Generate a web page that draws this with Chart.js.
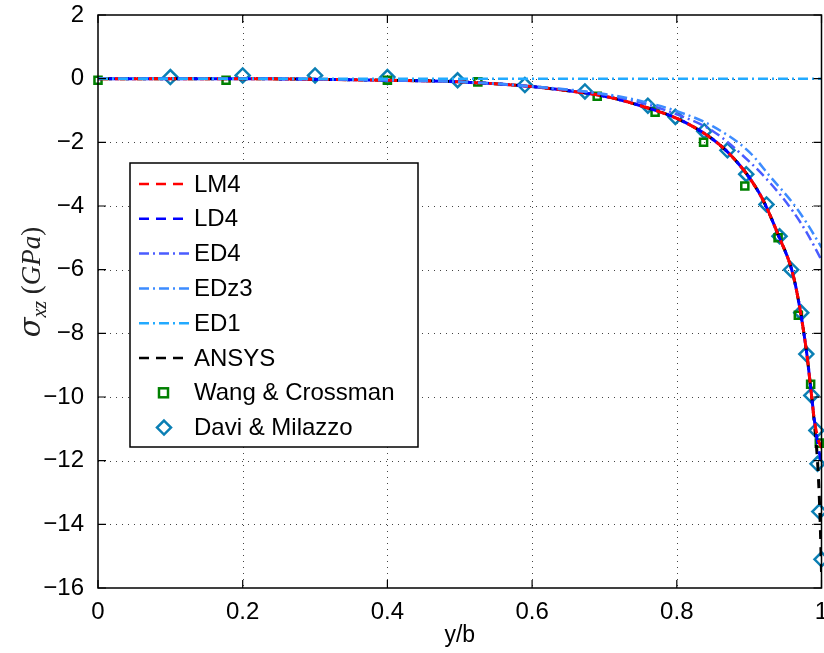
<!DOCTYPE html>
<html>
<head>
<meta charset="utf-8">
<script src="https://cdn.jsdelivr.net/npm/chart.js@4.4.0/dist/chart.umd.min.js"></script>
<style>
  html, body { margin: 0; padding: 0; background: #fff; overflow: hidden; }
  #wrap { width: 824px; height: 653px; overflow: hidden; }
</style>
</head>
<body>
<div id="wrap"><canvas id="stressChart" width="831" height="653"></canvas></div>
<script>
// tick values
const xTicks = [0, 0.2, 0.4, 0.6, 0.8, 1];
const yTicks = [2, 0, -2, -4, -6, -8, -10, -12, -14, -16];

// theoretical curves
const xMain = [0, 0.1, 0.2, 0.3, 0.4, 0.5, 0.6, 0.65, 0.7, 0.75, 0.8, 0.84, 0.87, 0.9, 0.92, 0.94, 0.96, 0.97, 0.98, 0.985, 0.99, 0.995, 1.0];
const lm4 = [0, 0, 0, -0.02, -0.05, -0.1, -0.25, -0.38, -0.55, -0.85, -1.25, -1.75, -2.3, -3.1, -3.85, -4.9, -6.1, -7.2, -8.7, -9.7, -10.7, -11.3, -11.6];
const ld4 = [0, 0, 0, -0.02, -0.05, -0.1, -0.25, -0.38, -0.55, -0.85, -1.25, -1.75, -2.3, -3.1, -3.85, -4.9, -6.1, -7.2, -8.7, -9.7, -10.7, -11.5, -12.1];

const xAnsys = [0, 0.1, 0.2, 0.3, 0.4, 0.5, 0.6, 0.65, 0.7, 0.75, 0.8, 0.84, 0.87, 0.9, 0.92, 0.94, 0.96, 0.97, 0.98, 0.985, 0.99, 0.995, 0.998, 1.0];
const ansys = [0, 0, 0, -0.02, -0.05, -0.1, -0.25, -0.38, -0.55, -0.85, -1.25, -1.75, -2.3, -3.1, -3.85, -4.9, -6.1, -7.2, -8.7, -9.7, -10.8, -12.2, -13.8, -15.5];

const xEd = [0, 0.2, 0.4, 0.5, 0.6, 0.7, 0.75, 0.8, 0.85, 0.9, 0.93, 0.96, 0.98, 1.0];
const ed4 = [0, 0, -0.05, -0.1, -0.25, -0.5, -0.75, -1.12, -1.65, -2.6, -3.3, -4.15, -4.85, -5.7];
const edz3 = [0, 0, -0.05, -0.1, -0.24, -0.48, -0.7, -1.02, -1.5, -2.3, -3.1, -3.9, -4.55, -5.3];

const xEd1 = [0, 1];
const ed1 = [0, 0];

// reference data
const wangX = [0, 0.177, 0.4, 0.525, 0.69, 0.77, 0.837, 0.894, 0.94, 0.968, 0.985, 0.997];
const wangY = [-0.05, -0.05, -0.05, -0.1, -0.55, -1.05, -2.0, -3.37, -5.0, -7.43, -9.6, -11.45];
const daviX = [0.1, 0.2, 0.3, 0.4, 0.497, 0.59, 0.673, 0.76, 0.798, 0.838, 0.87, 0.896, 0.924, 0.942, 0.958, 0.972, 0.979, 0.986, 0.993, 0.9945, 0.997, 1.0];
const daviY = [0.05, 0.1, 0.1, 0.05, -0.05, -0.2, -0.4, -0.85, -1.2, -1.65, -2.25, -3.0, -3.95, -4.95, -6.0, -7.35, -8.65, -9.95, -11.05, -12.1, -13.6, -15.1];

function pts(xs, ys) {
  return xs.map((x, i) => ({ x: x, y: ys[i] }));
}

const DASH = [10, 7];
const DASHDOT = [10, 4, 2, 4];

function lineSet(label, xs, ys, color, dash, width, offset) {
  return {
    label: label,
    data: pts(xs, ys),
    borderColor: color,
    backgroundColor: color,
    borderDash: dash,
    borderDashOffset: offset || 0,
    borderWidth: width,
    pointRadius: 0,
    cubicInterpolationMode: "monotone",
    fill: false,
  };
}

const datasets = [
  lineSet("ED1", xEd1, ed1, "#22aaff", DASHDOT, 2.5),
  lineSet("EDz3", xEd, edz3, "#3d8cff", DASHDOT, 2.5),
  lineSet("ED4", xEd, ed4, "#4a5cff", DASHDOT, 2.5),
  lineSet("LM4", xMain, lm4, "#ff0000", DASH, 3, 0),
  lineSet("LD4", xMain, ld4, "#0000ff", DASH, 3, 6),
  lineSet("ANSYS", xAnsys, ansys, "#000000", [9, 8], 3, 12),
  {
    label: "Wang & Crossman",
    data: pts(wangX, wangY),
    showLine: false,
    pointStyle: "rect",
    pointRadius: 5,
    borderColor: "#008000",
    backgroundColor: "rgba(0,0,0,0)",
    pointBorderWidth: 2.5,
    clip: false,
  },
  {
    label: "Davi & Milazzo",
    data: pts(daviX, daviY),
    showLine: false,
    pointStyle: "rectRot",
    pointRadius: 7,
    borderColor: "#0a7fb4",
    backgroundColor: "rgba(0,0,0,0)",
    pointBorderWidth: 2.5,
    clip: false,
  },
];

const legendItems = [
  { text: "LM4", color: "#ff0000", dash: DASH },
  { text: "LD4", color: "#0000ff", dash: DASH },
  { text: "ED4", color: "#4a5cff", dash: DASHDOT },
  { text: "EDz3", color: "#3d8cff", dash: DASHDOT },
  { text: "ED1", color: "#22aaff", dash: DASHDOT },
  { text: "ANSYS", color: "#000000", dash: DASH },
  { text: "Wang & Crossman", color: "#008000", marker: "square" },
  { text: "Davi & Milazzo", color: "#0a7fb4", marker: "diamond" },
];

// grid, frame, inner ticks, legend, y label
const matlabFrame = {
  id: "matlabFrame",
  beforeDatasetsDraw(chart) {
    const ctx = chart.ctx;
    const a = chart.chartArea;
    const xs = chart.scales.x;
    const ys = chart.scales.y;
    ctx.save();
    ctx.strokeStyle = "#444";
    ctx.lineWidth = 1;
    ctx.setLineDash([1, 5]);
    xTicks.forEach((t) => {
      if (t <= 0 || t >= 1) return;
      const px = Math.round(xs.getPixelForValue(t)) + 0.5;
      ctx.beginPath();
      ctx.moveTo(px, a.top);
      ctx.lineTo(px, a.bottom);
      ctx.stroke();
    });
    yTicks.forEach((t) => {
      if (t >= 2 || t <= -16) return;
      const py = Math.round(ys.getPixelForValue(t)) + 0.5;
      ctx.beginPath();
      ctx.moveTo(a.left, py);
      ctx.lineTo(a.right, py);
      ctx.stroke();
    });
    ctx.restore();
  },
  afterDraw(chart) {
    const ctx = chart.ctx;
    const a = chart.chartArea;
    const xs = chart.scales.x;
    const ys = chart.scales.y;
    ctx.save();
    ctx.setLineDash([]);
    ctx.strokeStyle = "#000";
    ctx.lineWidth = 1.5;
    ctx.strokeRect(a.left, a.top, a.right - a.left, a.bottom - a.top);
    // inward tick marks
    ctx.lineWidth = 1.2;
    const tl = 8;
    xTicks.forEach((t) => {
      const px = xs.getPixelForValue(t);
      ctx.beginPath();
      ctx.moveTo(px, a.bottom);
      ctx.lineTo(px, a.bottom - tl);
      ctx.moveTo(px, a.top);
      ctx.lineTo(px, a.top + tl);
      ctx.stroke();
    });
    yTicks.forEach((t) => {
      const py = ys.getPixelForValue(t);
      ctx.beginPath();
      ctx.moveTo(a.left, py);
      ctx.lineTo(a.left + tl, py);
      ctx.moveTo(a.right, py);
      ctx.lineTo(a.right - tl, py);
      ctx.stroke();
    });

    // legend box
    const bx = 130, by = 163, bw = 288, bh = 284;
    ctx.fillStyle = "#fff";
    ctx.fillRect(bx, by, bw, bh);
    ctx.lineWidth = 1.5;
    ctx.strokeRect(bx, by, bw, bh);
    ctx.font = "24px 'Liberation Sans', Arial, sans-serif";
    ctx.textBaseline = "middle";
    legendItems.forEach((item, i) => {
      const cy = 184 + i * 34.8;
      ctx.strokeStyle = item.color;
      ctx.lineWidth = 2.5;
      if (item.marker === "square") {
        ctx.setLineDash([]);
        ctx.strokeRect(159, cy - 4.5, 9, 9);
      } else if (item.marker === "diamond") {
        ctx.setLineDash([]);
        ctx.beginPath();
        ctx.moveTo(164, cy - 7);
        ctx.lineTo(171, cy);
        ctx.lineTo(164, cy + 7);
        ctx.lineTo(157, cy);
        ctx.closePath();
        ctx.stroke();
      } else {
        ctx.setLineDash(item.dash);
        ctx.beginPath();
        ctx.moveTo(139, cy);
        ctx.lineTo(189, cy);
        ctx.stroke();
      }
      ctx.setLineDash([]);
      ctx.fillStyle = "#000";
      ctx.fillText(item.text, 194, cy + 1);
    });

    // y axis label: sigma_xz (GPa)
    ctx.translate(31, 282);
    ctx.rotate(-Math.PI / 2);
    ctx.fillStyle = "#222";
    ctx.textBaseline = "alphabetic";
    const parts = [
      { t: "\u03C3", f: "italic 29px 'DejaVu Serif', 'Liberation Serif', serif", dy: 0 },
      { t: "xz", f: "italic 20px 'Liberation Serif', serif", dy: 6 },
      { t: " (", f: "27px 'Liberation Serif', serif", dy: 0 },
      { t: "GPa", f: "italic 27px 'Liberation Serif', serif", dy: 0 },
      { t: ")", f: "27px 'Liberation Serif', serif", dy: 0 },
    ];
    let total = 0;
    parts.forEach((p) => {
      ctx.font = p.f;
      p.w = ctx.measureText(p.t).width;
      total += p.w;
    });
    let x0 = -total / 2;
    parts.forEach((p) => {
      ctx.font = p.f;
      ctx.fillText(p.t, x0, 9 + p.dy);
      x0 += p.w;
    });
    ctx.restore();
  },
};

const tickFont = { family: "'Liberation Sans', Arial, sans-serif", size: 24 };

new Chart(document.getElementById("stressChart"), {
  type: "line",
  data: { datasets: datasets },
  options: {
    responsive: false,
    animation: false,
    layout: { padding: { top: 15, right: 2, left: 0, bottom: 0 } },
    plugins: {
      legend: { display: false },
      tooltip: { enabled: false },
    },
    scales: {
      x: {
        type: "linear",
        min: 0,
        max: 1,
        afterBuildTicks: (s) => {
          s.ticks = xTicks.map((v) => ({ value: v }));
        },
        afterFit: (s) => {
          s.height = 65;
        },
        grid: { display: false },
        border: { display: false },
        ticks: {
          color: "#000",
          font: tickFont,
          padding: 2,
          maxRotation: 0,
          callback: (v) => String(v),
        },
        title: {
          display: true,
          text: "y/b",
          color: "#000",
          font: { family: "'Liberation Sans', Arial, sans-serif", size: 23 },
          padding: { top: 0, bottom: 4 },
        },
      },
      y: {
        type: "linear",
        min: -16,
        max: 2,
        afterBuildTicks: (s) => {
          s.ticks = yTicks.map((v) => ({ value: v }));
        },
        afterFit: (s) => {
          s.width = 98;
          s.paddingTop = 0;
          s.paddingBottom = 0;
        },
        grid: { display: false },
        border: { display: false },
        ticks: {
          color: "#000",
          font: tickFont,
          padding: 6,
          callback: (v) => String(v).replace("-", "\u2212"),
        },
      },
    },
  },
  plugins: [matlabFrame],
});
</script>
</body>
</html>
